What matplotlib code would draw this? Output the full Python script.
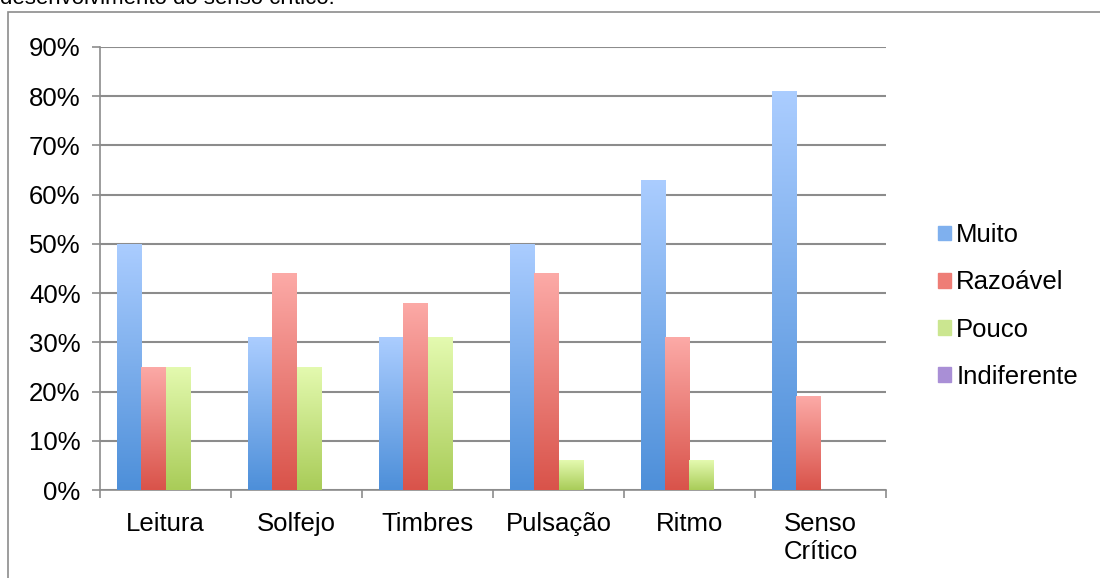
import numpy as np
import matplotlib.pyplot as plt
from matplotlib.colors import LinearSegmentedColormap
from matplotlib.patches import Rectangle

plt.rcParams['font.family'] = ['Liberation Sans', 'DejaVu Sans']

# Data
categories = ['Leitura', 'Solfejo', 'Timbres', 'Pulsação', 'Ritmo', 'Senso\nCrítico']
muito = [50, 31, 31, 50, 63, 81]
razoavel = [25, 44, 38, 44, 31, 19]
pouco = [25, 25, 31, 6, 6, 0]
indiferente = [0, 0, 0, 0, 0, 0]
series_names = ['Muito', 'Razoável', 'Pouco', 'Indiferente']
series_values = [muito, razoavel, pouco, indiferente]

# gradient colours (top, bottom) per series
grad_colors = [('#abcdff', '#4d8fd9'),
               ('#fcaaa7', '#d9534a'),
               ('#e4fab0', '#a9cc58'),
               ('#c9b4e6', '#8a6bbf')]
legend_colors = ['#7fb0ee', '#ee7d76', '#cbe690', '#a98fd6']

fs = 18.5

fig = plt.figure(figsize=(11, 5.78), dpi=100)
ax = fig.add_axes([100 / 1100, 1 - 490 / 578, 786 / 1100, (490 - 47) / 578])

x = np.arange(len(categories))
width = 0.187
offsets = (np.arange(4) - 1.5) * width

# bars with a vertical gradient, light at the top
grad = np.linspace(1, 0, 256).reshape(-1, 1)
for i, (vals, (top, bottom)) in enumerate(zip(series_values, grad_colors)):
    cmap = LinearSegmentedColormap.from_list('g%d' % i, [bottom, top])
    bars = ax.bar(x + offsets[i], vals, width, color='none', edgecolor='none', zorder=3)
    for b in bars:
        h = b.get_height()
        if h <= 0:
            continue
        im = ax.imshow(grad, cmap=cmap, aspect='auto', zorder=3,
                       extent=[b.get_x(), b.get_x() + b.get_width(), 0, h],
                       origin='upper', interpolation='bilinear')
        im.set_clip_path(b)

ax.set_xlim(-0.5, len(categories) - 0.5)
ax.set_ylim(0, 90)
ax.set_yticks(np.arange(0, 91, 10))
ax.set_yticklabels(['%d%%' % v for v in range(0, 91, 10)], fontsize=fs)
ax.set_xticks(x)
ax.set_xticklabels(categories, fontsize=fs, linespacing=1.2)
ax.set_xticks(np.arange(-0.5, len(categories)), minor=True)
ax.tick_params(axis='x', which='major', length=0, pad=16)
ax.tick_params(axis='x', which='minor', length=6, color='#8c8c8c', width=1.2)
ax.tick_params(axis='y', length=6, color='#8c8c8c', width=1.2, pad=8)

ax.grid(axis='y', color='#8c8c8c', linewidth=1.5, zorder=0)
for s in ['top', 'right']:
    ax.spines[s].set_visible(False)
for s in ['left', 'bottom']:
    ax.spines[s].set_color('#8c8c8c')
    ax.spines[s].set_linewidth(1.2)

# legend
handles = [Rectangle((0, 0), 1, 1, color=c) for c in legend_colors]
fig.legend(handles, series_names, loc='upper left', bbox_to_anchor=(928 / 1100, 1 - 213 / 578),
           frameon=False, fontsize=fs, handlelength=0.5, handleheight=0.5,
           handletextpad=0.2, labelspacing=0.9, borderaxespad=0)

# outer chart frame and cut-off title
fig.patches.append(Rectangle((8 / 1100, -0.1), 1.2, 1.1 - 12 / 578, transform=fig.transFigure,
                             fill=False, edgecolor='#8c8c8c', linewidth=1.2))
fig.text(0 / 1100, 1 - 4 / 578, 'desenvolvimento do senso crítico.', fontsize=16, va='baseline')

fig.savefig('out.png', dpi=100)
